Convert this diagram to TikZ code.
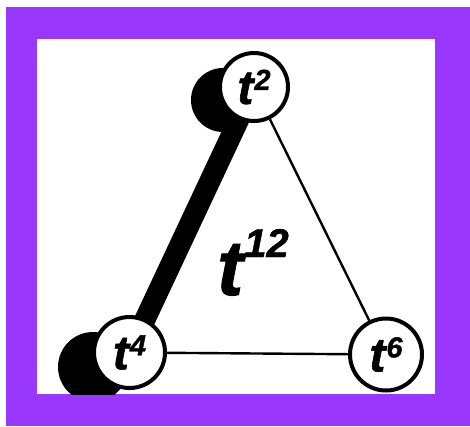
\documentclass[tikz,border=0pt]{standalone}
\usepackage{fontspec}
\setmainfont{Liberation Sans}
\newfontfamily\heavyfont{Liberation Sans}[ItalicFeatures={FakeBold=1.2},BoldItalicFeatures={FakeBold=1.2}]
\usepackage{xcolor}
\usetikzlibrary{positioning,backgrounds}
\definecolor{vpurple}{RGB}{153,55,252}
\pgfdeclarelayer{edges}
\pgfsetlayers{background,edges,main}
\newcommand{\tpow}[4]{{\heavyfont\fontsize{#1}{#1}\selectfont\bfseries\itshape t}\kern1pt\raisebox{#3}{\heavyfont\fontsize{#2}{#2}\selectfont\bfseries\itshape #4}}
\tikzset{
  vert/.style={circle,draw,fill=white,line width=4,inner sep=0pt},
  link/.style={line width=2.4},
}

\begin{document}
\begin{tikzpicture}[x=1pt,y=-1pt]
    \useasboundingbox (0,0) rectangle (470,426);
    \begin{scope}[on background layer]
      \fill[vpurple] (6,7) rectangle (470,426);
      \fill[white] (37,39) rectangle (435,394);
    \end{scope}
    \node[vert,minimum size=68] (t2) at (254,87) {\tpow{48}{29}{14pt}{2}};
    \node[vert,minimum size=71] (t4) at (129.5,352.5) {\tpow{48}{29}{14pt}{4}};
    \node[vert,minimum size=72] (t6) at (386,354.5) {\tpow{48}{29}{14pt}{6}};
    \node[anchor=base,inner sep=0pt] (t12) at (253,295) {\tpow{78}{40}{38pt}{12}};
    \begin{pgfonlayer}{edges}
      \clip (37,39) rectangle (435,394);
      \fill (223,100) circle (32);
      \fill (93,367) circle (35);
      \draw[line width=21] (t2.center) -- (t4.center);
      \draw[link] (t2) -- (t6);
      \draw[link] (t4) -- (t6);
    \end{pgfonlayer}
\end{tikzpicture}
\end{document}
